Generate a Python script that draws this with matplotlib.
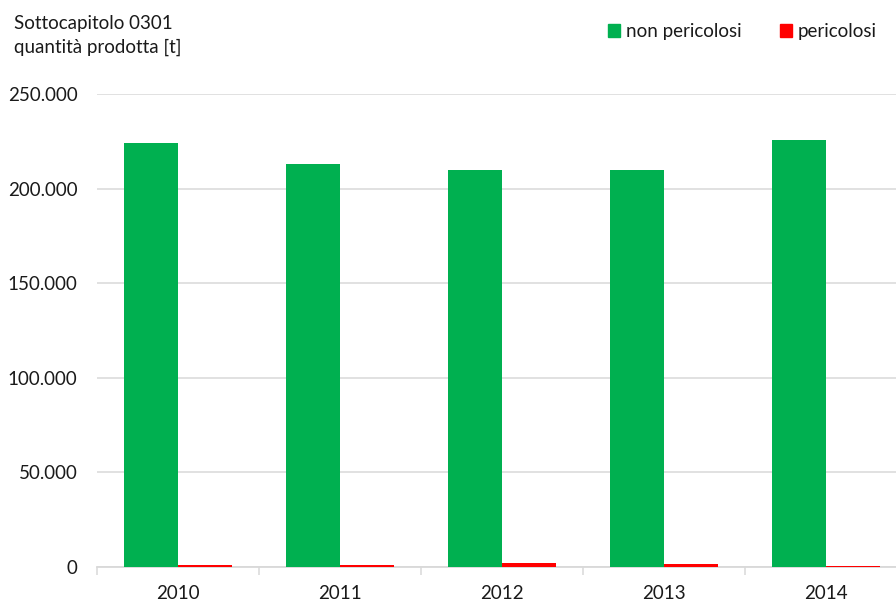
import matplotlib
matplotlib.use('Agg')
import matplotlib.pyplot as plt
from matplotlib.ticker import FuncFormatter, FixedLocator
from matplotlib.patches import Patch
import numpy as np

plt.rcParams['font.family'] = ['Lato', 'DejaVu Sans']

# data (tonnes)
years = ['2010', '2011', '2012', '2013', '2014']
non_pericolosi = [224300, 213200, 209700, 209700, 225900]
pericolosi = [1300, 1100, 2100, 1800, 600]

green = '#00B050'
red = '#FF0000'
grid_col = '#D9D9D9'
text_col = '#1A1A1A'

fig = plt.figure(figsize=(8.96, 6.02), dpi=100)
ax = fig.add_axes([97 / 896, 1 - 567 / 602, 1 - 97 / 896, (567 - 94) / 602])

x = np.arange(len(years))
w = 1 / 3
ax.bar(x - w / 2, non_pericolosi, width=w, color=green, zorder=3)
ax.bar(x + w / 2, pericolosi, width=w, color=red, zorder=3)

ax.set_ylim(0, 250000)
ax.set_xlim(-0.5, 4.43)
ax.yaxis.set_major_locator(FixedLocator([0, 50000, 100000, 150000, 200000, 250000]))
ax.yaxis.set_major_formatter(FuncFormatter(lambda v, p: f'{int(v):,}'.replace(',', '.')))
ax.grid(axis='y', color=grid_col, linewidth=1.1, zorder=0)
ax.set_axisbelow(True)

ax.set_xticks(x)
ax.set_xticklabels(years)
ax.set_xticks([-0.5, 0.5, 1.5, 2.5, 3.5], minor=True)
ax.tick_params(axis='x', which='major', length=0, pad=13, labelsize=13.5, labelcolor=text_col)
ax.tick_params(axis='x', which='minor', length=6, width=1.1, color=grid_col, direction='out')
ax.tick_params(axis='y', length=0, pad=14, labelsize=13.5, labelcolor=text_col)

for s in ['top', 'right', 'left']:
    ax.spines[s].set_visible(False)
ax.spines['bottom'].set_color(grid_col)
ax.spines['bottom'].set_linewidth(1.3)
ax.spines['bottom'].set_zorder(2)

fig.text(14 / 896, 1 - 29 / 602, 'Sottocapitolo 0301',
         fontsize=13.5, color=text_col, va='baseline', ha='left')
fig.text(14 / 896, 1 - 53 / 602, 'quantità prodotta [t]',
         fontsize=13.5, color=text_col, va='baseline', ha='left')

handles = [Patch(color=green, label='non pericolosi'), Patch(color=red, label='pericolosi')]
fig.legend(handles=handles, loc='upper right', bbox_to_anchor=(0.997, 0.99), ncol=2,
           frameon=False, fontsize=13.5, handlelength=0.65, handleheight=0.65,
           handletextpad=0.3, columnspacing=2.05, labelcolor=text_col)

fig.savefig('out.png', dpi=100)
